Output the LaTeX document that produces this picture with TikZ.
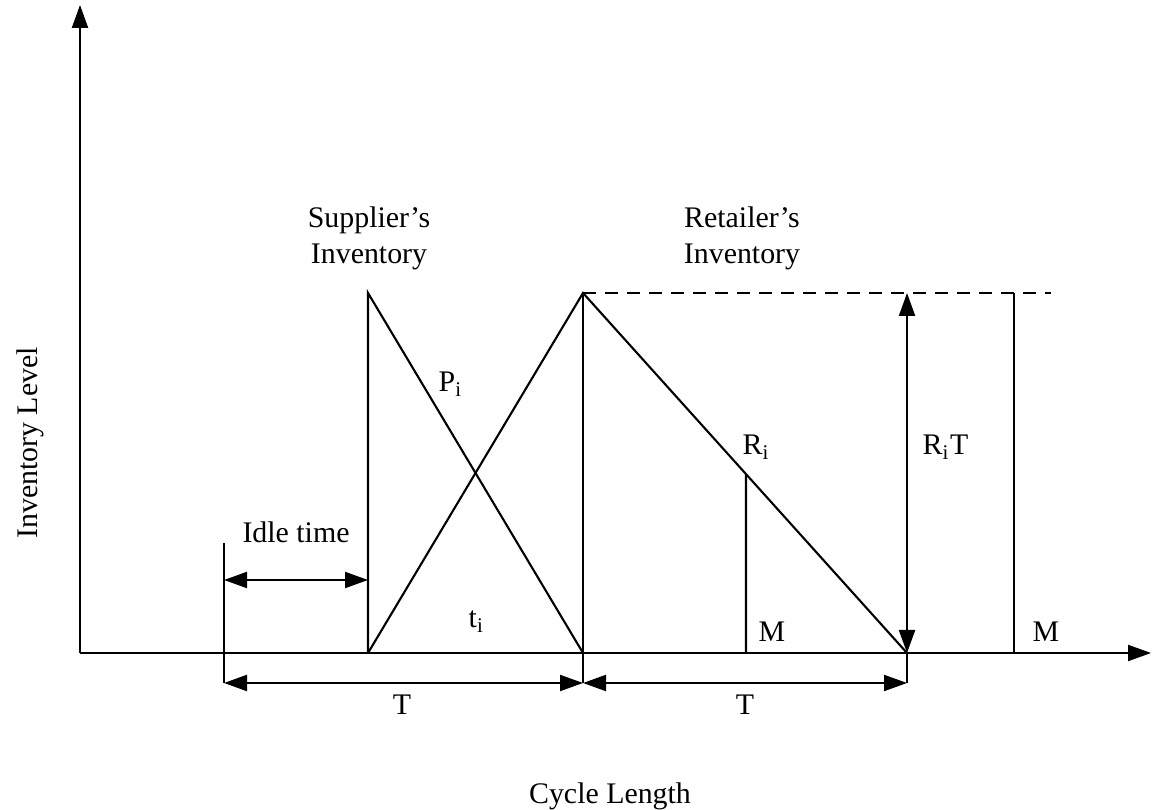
\documentclass[tikz,border=0pt]{standalone}
\usepackage{fontspec}
\setmainfont{Liberation Serif}
\usetikzlibrary{arrows.meta,calc,positioning}
\tikzset{
  invLine/.style={line width=0.6pt},
  axisArrow/.style={invLine,-{Triangle[length=2.3mm,width=1.6mm]}},
  dimArrow/.style={invLine,{Triangle[length=2.3mm,width=1.6mm]}-{Triangle[length=2.3mm,width=1.6mm]}},
  dashLine/.style={invLine,dash pattern=on 1.3mm off 0.9mm},
  invLabel/.style={font=\fontsize{8.5}{10.2}\selectfont,inner sep=0pt}
}
\begin{document}
\begin{tikzpicture}[x=1cm,y=1cm]
  \useasboundingbox (0,0) rectangle (11.53,8.09);
  % key points
  \coordinate (O) at (0.80,1.56);
  \coordinate (yTop) at (0.80,8.04);
  \coordinate (xEnd) at (11.51,1.56);
  \coordinate (sBase) at (3.68,1.56);
  \coordinate (sTop) at (3.68,5.16);
  \coordinate (rBase) at (5.83,1.56);
  \coordinate (rTop) at (5.83,5.16);
  \coordinate (rEnd) at (9.07,1.56);
  \coordinate (rLevel) at (9.07,5.16);
  \coordinate (mBase) at (7.46,1.56);
  \coordinate (mTop) at ($(rTop)!0.503!(rEnd)$);
  \coordinate (mmBase) at (10.14,1.56);
  \coordinate (mmTop) at (10.14,5.16);
  \coordinate (dashEnd) at (10.51,5.16);
  \coordinate (idleTop) at (2.24,2.66);
  \coordinate (idleBot) at (2.24,1.26);
  \coordinate (idleL) at (2.24,2.29);
  \coordinate (idleR) at (3.68,2.29);
  \coordinate (rDim) at (5.83,1.26);
  \coordinate (eDim) at (9.07,1.26);

  % axes
  \draw[axisArrow] (O) -- (yTop);
  \draw[axisArrow] (O) -- (xEnd);

  % inventory triangles
  \draw[invLine] (sBase) -- (sTop) -- (rBase);
  \draw[invLine] (sBase) -- (rTop) -- (rEnd);
  \draw[invLine] (rTop) -- (rDim);
  \draw[invLine] (rEnd) -- (eDim);
  \draw[invLine] (mBase) -- (mTop);
  \draw[invLine] (mmBase) -- (mmTop);
  \draw[dashLine] (rTop) -- (dashEnd);
  \draw[invLine] (idleTop) -- (idleBot);

  % dimensions
  \draw[dimArrow] (idleL) -- (idleR);
  \draw[dimArrow] (idleBot) -- (rDim);
  \draw[dimArrow] (rDim) -- (eDim);
  \draw[dimArrow] (rLevel) -- (rEnd);

  % labels
  \node[invLabel, align=center] (supLbl) at (3.69,5.71) {Supplier’s\\Inventory};
  \node[invLabel, align=center] (retLbl) at (7.42,5.71) {Retailer’s\\Inventory};
  \node[invLabel, anchor=base] (idleLbl) at (2.96,2.66) {Idle time};
  \node[invLabel, anchor=base west] (pLbl) at (4.38,4.17) {P\textsubscript{i}};
  \node[invLabel, anchor=base west] (rLbl) at (7.42,3.54) {R\textsubscript{i}};
  \node[invLabel, anchor=base west] (rtLbl) at (9.22,3.54) {R\textsubscript{i}T};
  \node[invLabel, anchor=base west] (tLbl) at (4.68,1.81) {t\textsubscript{i}};
  \node[invLabel, anchor=base west] (mLbl) at (7.58,1.67) {M};
  \node[invLabel, anchor=base west] (mmLbl) at (10.32,1.67) {M};
  \node[invLabel, anchor=base] (tLeft) at (4.02,0.94) {T};
  \node[invLabel, anchor=base] (tRight) at (7.45,0.94) {T};
  \node[invLabel, anchor=base] (xLbl) at (6.10,0.06) {Cycle Length};
  \node[invLabel, anchor=base, rotate=90] (yLbl) at (0.37,3.66) {Inventory Level};
\end{tikzpicture}
\end{document}
